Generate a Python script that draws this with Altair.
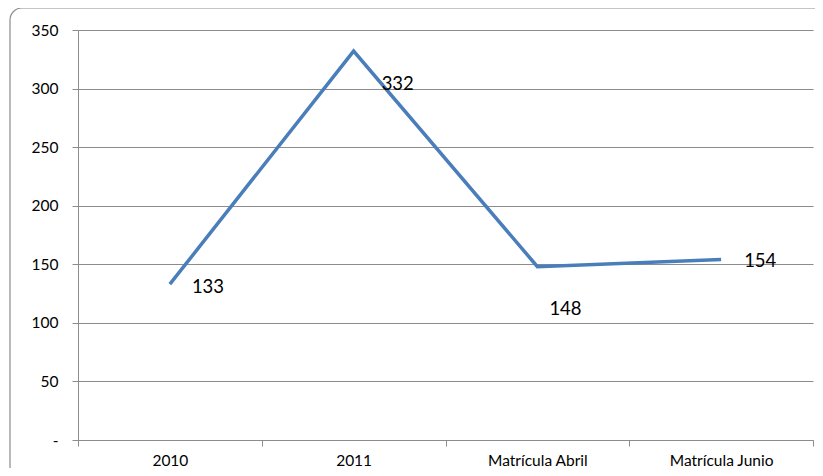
import altair as alt
import pandas as pd

categories = ["2010", "2011", "Matrícula Abril", "Matrícula Junio"]
values = [133, 332, 148, 154]
label_dx = [22, 28, 12, 23]
label_dy = [3, 33, 42, 1]

df = pd.DataFrame({"cat": categories, "val": values, "idx": list(range(len(values)))})

FONT = "Lato"
GRID = "#8c8c8c"

x_enc = alt.X("cat:N", sort=categories, title=None,
              scale=alt.Scale(type="band", paddingInner=0, paddingOuter=0),
              axis=alt.Axis(labelAngle=0, tickBand="extent", labelFontSize=15.5,
                            labelFont=FONT, labelColor="black", domainColor=GRID,
                            tickColor=GRID, tickSize=6, labelPadding=7, grid=False))
y_enc = alt.Y("val:Q", title=None,
              scale=alt.Scale(domain=[0, 350], nice=False),
              axis=alt.Axis(values=[0, 50, 100, 150, 200, 250, 300, 350],
                            labelExpr="datum.value == 0 ? '-' : datum.label",
                            labelFontSize=15.5, labelFont=FONT, labelColor="black",
                            domainColor=GRID, tickColor=GRID, gridColor=GRID,
                            tickSize=6, labelPadding=14, grid=True))

base = alt.Chart(df)

frame = alt.Chart(pd.DataFrame({"a": [0]})).mark_rect(
    fill=None, stroke="#8c8c8c", strokeWidth=1.2, cornerRadius=12
).encode(x=alt.value(-68), x2=alt.value(760), y=alt.value(-22), y2=alt.value(460))

line = base.mark_line(color="#4a7ebb", strokeWidth=3.5).encode(x=x_enc, y=y_enc)

layers = [frame, line]
for i in range(len(values)):
    layers.append(
        base.transform_filter(alt.datum.idx == i).mark_text(
            align="left", baseline="middle", fontSize=18.5, font=FONT, color="black",
            dx=label_dx[i], dy=label_dy[i]
        ).encode(x=alt.X("cat:N", sort=categories), y="val:Q", text="val:Q")
    )

chart = alt.layer(*layers).properties(
    width=735, height=410,
    padding={"left": 70, "top": 22, "right": 2, "bottom": 28},
    autosize=alt.AutoSizeParams(type="none"),
    background="white",
).configure_view(stroke=None)

chart.save("out.html", embed_options={"renderer": "svg", "actions": False})
